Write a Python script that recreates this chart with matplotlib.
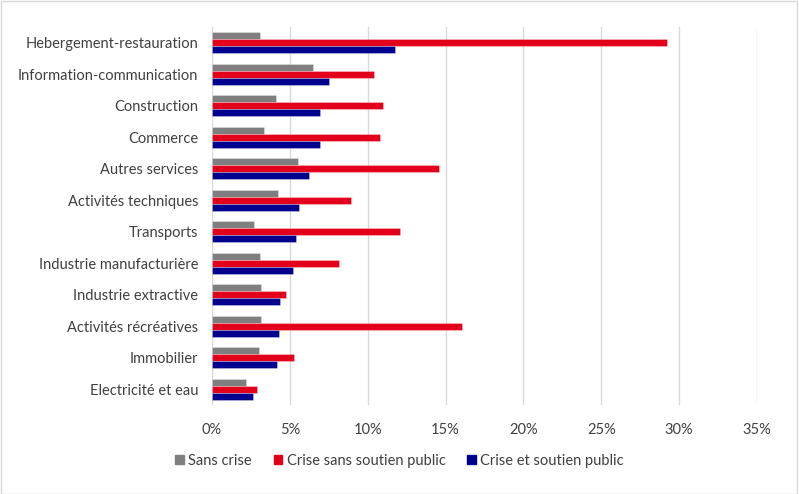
import matplotlib
matplotlib.use("Agg")
import matplotlib.pyplot as plt
import matplotlib.patches as mpatches
import numpy as np

categories = ["Hebergement-restauration", "Information-communication", "Construction",
              "Commerce", "Autres services", "Activités techniques", "Transports",
              "Industrie manufacturière", "Industrie extractive", "Activités récréatives",
              "Immobilier", "Electricité et eau"]
sans_crise = [3.08, 6.5, 4.1, 3.36, 5.5, 4.24, 2.72, 3.06, 3.17, 3.17, 3.0, 2.18]
crise_sans_soutien = [29.2, 10.4, 10.98, 10.78, 14.59, 8.92, 12.07, 8.13, 4.73, 16.03, 5.24, 2.91]
crise_et_soutien = [11.75, 7.5, 6.95, 6.95, 6.23, 5.6, 5.39, 5.2, 4.39, 4.3, 4.15, 2.63]
series_names = ["Sans crise", "Crise sans soutien public", "Crise et soutien public"]
colors = ["#7F7F7F", "#E2001A", "#00008F"]
xticks = [0, 5, 10, 15, 20, 25, 30, 35]

plt.rcParams['font.family'] = ['Lato', 'DejaVu Sans']

fig = plt.figure(figsize=(7.99, 4.94), dpi=100)
ax = fig.add_axes([212/799, 1-405/494, (757-212)/799, (405-27)/494])

y = np.arange(len(categories))
h = 0.22
for i, (vals, name, c) in enumerate(zip([sans_crise, crise_sans_soutien, crise_et_soutien], series_names, colors)):
    ax.barh(y + (i - 1) * h, vals, height=h, color=c, label=name, zorder=3,
            edgecolor=(1, 1, 1, 0.4), linewidth=0.5)

fs = 10.5
ax.set_ylim(len(categories) - 0.5, -0.5)
ax.set_xlim(0, 35)
ax.set_xticks(xticks)
ax.set_xticklabels([f"{t}%" for t in xticks], fontsize=fs, color="#404040")
ax.set_yticks(y)
ax.set_yticklabels(categories, fontsize=fs, color="#404040")
ax.tick_params(axis='both', length=0)
ax.tick_params(axis='x', pad=13)
ax.tick_params(axis='y', pad=10)
ax.grid(axis='x', color="#D9D9D9", linewidth=1, zorder=0)
for s in ax.spines.values():
    s.set_visible(False)

handles = [mpatches.Patch(color=c, label=n) for c, n in zip(colors, series_names)]
fig.legend(handles=handles, loc='center', bbox_to_anchor=(0.5, 1-461/494), ncol=3,
           frameon=False, fontsize=fs, handlelength=0.6, handleheight=0.6,
           handletextpad=0.3, columnspacing=1.5, labelcolor="#404040")

fig.patches.append(mpatches.Rectangle((0.001, 0.001), 0.997, 0.997, transform=fig.transFigure,
                                      fill=False, edgecolor="#D9D9D9", linewidth=1))

fig.savefig("out.png", dpi=100)
